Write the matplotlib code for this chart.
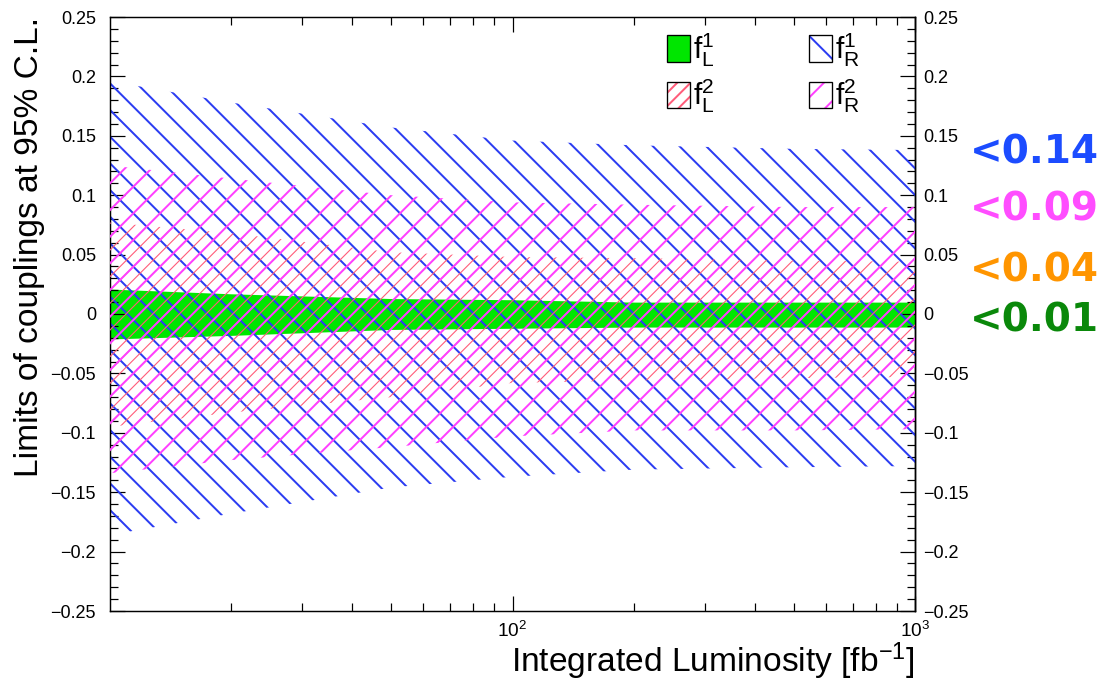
import numpy as np
import matplotlib
matplotlib.use('Agg')
import matplotlib.pyplot as plt
from matplotlib.patches import Patch
from matplotlib.ticker import LogLocator, MultipleLocator, NullFormatter

# values (band edges vs integrated luminosity)
lumi = [10, 20, 50, 100, 200, 500, 1000]
fR1_hi = [0.196, 0.178, 0.157, 0.146, 0.142, 0.139, 0.138]
fR1_lo = [-0.186, -0.168, -0.146, -0.137, -0.131, -0.129, -0.128]
fR2_hi = [0.125, 0.114, 0.100, 0.094, 0.092, 0.090, 0.090]
fR2_lo = [-0.134, -0.123, -0.112, -0.103, -0.098, -0.098, -0.097]
fL2_hi = [0.077, 0.068, 0.052, 0.048, 0.047, 0.045, 0.044]
fL2_lo = [-0.095, -0.083, -0.070, -0.058, -0.056, -0.054, -0.053]
fL1_hi = [0.021, 0.017, 0.013, 0.012, 0.010, 0.010, 0.010]
fL1_lo = [-0.021, -0.018, -0.013, -0.012, -0.011, -0.011, -0.011]

limit_texts = ['<0.14', '<0.09', '<0.04', '<0.01']
yticks = [-0.25, -0.2, -0.15, -0.1, -0.05, 0, 0.05, 0.1, 0.15, 0.2, 0.25]

green = '#00e600'
blue = '#2b3cf2'
magenta = '#ff40ff'
red = '#ff5c7a'
text_cols = ['#1c4cff', '#ff4dff', '#ff9500', '#0a880a']

DPI = 80
px = 72.0 / DPI  # points per pixel

plt.rcParams['font.family'] = 'Liberation Sans'
plt.rcParams['mathtext.fontset'] = 'custom'
plt.rcParams['mathtext.rm'] = 'Liberation Sans'
plt.rcParams['mathtext.it'] = 'Liberation Sans:italic'
plt.rcParams['hatch.linewidth'] = 1.8

fig = plt.figure(figsize=(1102 / DPI, 680 / DPI), dpi=DPI)
ax = fig.add_axes([110 / 1102, 69 / 680, 805 / 1102, 594 / 680])

ax.fill_between(lumi, fL1_lo, fL1_hi, color=green, lw=0, zorder=1)
ax.fill_between(lumi, fR1_lo, fR1_hi, facecolor='none', edgecolor=blue, hatch='\\', lw=0, zorder=2)
red_band = ax.fill_between(lumi, fL2_lo, fL2_hi, facecolor='none', edgecolor=red, hatch='//', lw=0, zorder=3)
if hasattr(red_band, 'set_hatch_linewidth'):
    red_band.set_hatch_linewidth(1.0)
ax.fill_between(lumi, fR2_lo, fR2_hi, facecolor='none', edgecolor=magenta, hatch='/', lw=0, zorder=4)

ax.set_xscale('log')
ax.set_xlim(10, 1000)
ax.set_ylim(-0.25, 0.25)
ax.set_xticks([100, 1000], [r'$10^{2}$', r'$10^{3}$'])
ax.xaxis.set_minor_locator(LogLocator(base=10, subs=np.arange(2, 10)))
ax.xaxis.set_minor_formatter(NullFormatter())
ylabels = [f'{v:g}'.replace('-', '\u2212') for v in yticks]
ax.set_yticks(yticks, ylabels)
ax.yaxis.set_minor_locator(MultipleLocator(0.01))

ax.tick_params(which='both', direction='in', top=True, right=True, width=1.1)
ax.tick_params(which='major', length=15 * px)
ax.tick_params(which='minor', length=8 * px)
ax.tick_params(axis='y', labelsize=18 * px, pad=14 * px)
ax.tick_params(axis='x', labelsize=19 * px, pad=10 * px)
for sp in ax.spines.values():
    sp.set_linewidth(1.3)

sec = ax.secondary_yaxis('right')
sec.set_yticks(yticks, ylabels)
sec.tick_params(length=0, pad=8 * px, labelsize=18 * px)
sec.spines['right'].set_linewidth(1.3)

ax.set_ylabel('Limits of couplings at 95% C.L.', fontsize=33.5 * px, loc='top')
ax.yaxis.set_label_coords(-0.081, 1.0)
ax.set_xlabel(r'Integrated Luminosity [fb$^{-1}$]', fontsize=33.5 * px, loc='right')
ax.xaxis.set_label_coords(1.0, -0.05)

handles = [
    Patch(facecolor=green, edgecolor='black', lw=1.2),
    (Patch(facecolor='white', edgecolor=red, hatch='//', lw=0), Patch(facecolor='none', edgecolor='black', lw=1.2)),
    (Patch(facecolor='white', edgecolor=blue, hatch='\\', lw=0), Patch(facecolor='none', edgecolor='black', lw=1.2)),
    (Patch(facecolor='white', edgecolor=magenta, hatch='/', lw=0), Patch(facecolor='none', edgecolor='black', lw=1.2)),
]
labels = [r'$\mathrm{f}^{1}_{\mathrm{L}}$', r'$\mathrm{f}^{2}_{\mathrm{L}}$',
          r'$\mathrm{f}^{1}_{\mathrm{R}}$', r'$\mathrm{f}^{2}_{\mathrm{R}}$']
ax.legend(handles, labels, ncol=2, loc='upper left', bbox_to_anchor=(0.692, 0.975),
          frameon=False, fontsize=30 * px, handlelength=0.75, handleheight=1.0,
          handletextpad=0.12, columnspacing=3.15, labelspacing=0.3, borderpad=0, borderaxespad=0)

# limit values at 1000 fb^-1 written on the right
baselines = [164, 221, 281, 331]
for txt, col, yb in zip(limit_texts, text_cols, baselines):
    fig.text(970 / 1102, 1 - yb / 680, txt, color=col, fontsize=39 * px, fontweight='bold',
             family='DejaVu Sans', ha='left', va='baseline')

fig.savefig('out.png', dpi=DPI)
